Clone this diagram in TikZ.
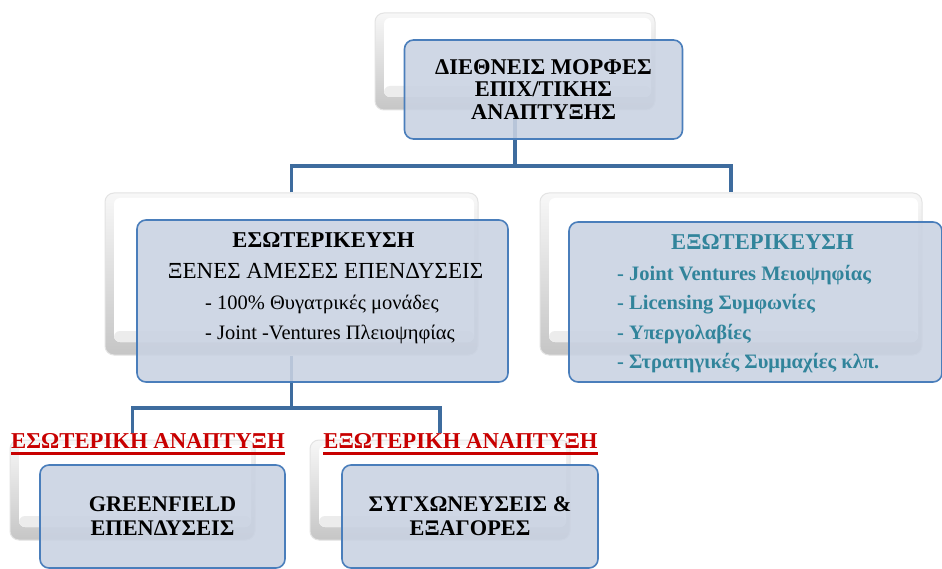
\documentclass[tikz,border=0pt]{standalone}
\usepackage{fontspec}
\setmainfont{Liberation Serif}
\usetikzlibrary{calc}
\definecolor{frontfill}{HTML}{C9D2E2}
\definecolor{frontline}{HTML}{4A7EBB}
\definecolor{conn}{HTML}{3E6C9E}
\definecolor{teal}{HTML}{31849B}
\definecolor{redlab}{HTML}{C80000}
\tikzset{
  backbox/.style={rounded corners=9pt, minimum width=#1, inner sep=0pt,
    top color=gray!6, bottom color=gray!45, draw=gray!22, line width=1pt,
    path picture={
      \fill[white, rounded corners=6pt]
        ($(path picture bounding box.south west)+(9,-13)$) rectangle
        ($(path picture bounding box.north east)+(-4,5)$);
      \fill[white!85!gray, rounded corners=6pt]
        ($(path picture bounding box.south west)+(9,-13)$) rectangle
        ($(path picture bounding box.south east)+(-4,-24)$);
    }},
  frontbox/.style={rounded corners=9pt, draw=frontline, line width=1.6pt,
    fill=frontfill, fill opacity=0.88, text opacity=1, inner sep=0pt, align=center},
  connector/.style={draw=conn, line width=3.8pt},
  redlabel/.style={text=redlab, font=\fontsize{22.7}{24}\selectfont\bfseries, inner sep=0pt, anchor=base},
  itemtext/.style={font=\fontsize{20.5}{24}\selectfont, anchor=base west, inner sep=0pt},
  tealitem/.style={font=\fontsize{20.5}{24}\selectfont\bfseries, text=teal, anchor=base west, inner sep=0pt},
}
\begin{document}
\begin{tikzpicture}[x=1pt,y=-1pt]
\useasboundingbox[fill=white] (0,0) rectangle (942,569);
% back boxes
\node[backbox=280pt, minimum height=97pt] (topback) at (515,61.5) {};
\node[backbox=373pt, minimum height=162pt] (lback) at (291.5,274) {};
\node[backbox=382pt, minimum height=162pt] (rback) at (731,274) {};
\node[backbox=245pt, minimum height=100pt] (blback) at (132.5,490) {};
\node[backbox=260pt, minimum height=100pt] (brback) at (440,490) {};
% junctions
\coordinate (j1) at (515,166);
\coordinate (j2) at (291.5,408);
% labels
\node[redlabel] (lab1) at (148,448) {ΕΣΩΤΕΡΙΚΗ ΑΝΑΠΤΥΞΗ};
\node[redlabel] (lab2) at (460.5,448) {ΕΞΩΤΕΡΙΚΗ ΑΝΑΠΤΥΞΗ};
\draw[redlab, line width=3pt] ($(lab1.base west)+(0,5.5)$) -- ($(lab1.base east)+(0,5.5)$);
\draw[redlab, line width=3pt] ($(lab2.base west)+(0,5.5)$) -- ($(lab2.base east)+(0,5.5)$);
% connectors
\draw[connector] (topback.south) -- (j1);
\draw[connector] (lback.north) |- (j1) -| (rback.north);
\draw[connector] (lback.south) -- (j2);
\draw[connector] (lab1.north -| blback.north) |- (j2) -| (lab2.north -| brback.north);
% front boxes
\node[frontbox, minimum width=278pt, minimum height=99pt,
  font=\fontsize{22.5}{22.5}\selectfont\bfseries] (top) at (543.5,89.5)
  {ΔΙΕΘΝΕΙΣ ΜΟΡΦΕΣ\\ΕΠΙΧ/ΤΙΚΗΣ\\ΑΝΑΠΤΥΞΗΣ};
\node[frontbox, minimum width=371pt, minimum height=162pt] (left) at (322.5,301) {};
\node[font=\fontsize{22.6}{24}\selectfont\bfseries, anchor=base] (lt1) at (323.5,248) {ΕΣΩΤΕΡΙΚΕΥΣΗ};
\node[font=\fontsize{23}{24}\selectfont, anchor=base] (lt2) at (325.5,279) {ΞΕΝΕΣ ΑΜΕΣΕΣ ΕΠΕΝΔΥΣΕΙΣ};
\node[itemtext] (lt3) at (205,309) {- 100\% Θυγατρικές μονάδες};
\node[itemtext] (lt4) at (205,339) {- Joint -Ventures Πλειοψηφίας};
\node[frontbox, minimum width=373pt, minimum height=160pt] (right) at (755.5,302) {};
\node[font=\fontsize{22.6}{24}\selectfont\bfseries, text=teal, anchor=base] (rt1) at (762.5,250) {ΕΞΩΤΕΡΙΚΕΥΣΗ};
\node[tealitem] (rt2) at (617,280) {- Joint Ventures Μειοψηφίας};
\node[tealitem] (rt3) at (617,309) {- Licensing Συμφωνίες};
\node[tealitem] (rt4) at (617,339) {- Υπεργολαβίες};
\node[tealitem] (rt5) at (617,368) {- Στρατηγικές Συμμαχίες κλπ.};
\node[frontbox, minimum width=245pt, minimum height=103pt,
  font=\fontsize{22.3}{24}\selectfont\bfseries] (bl) at (162.5,516.5) {GREENFIELD\\ΕΠΕΝΔΥΣΕΙΣ};
\node[frontbox, minimum width=256pt, minimum height=103pt,
  font=\fontsize{22.3}{24}\selectfont\bfseries] (br) at (470,516.5) {ΣΥΓΧΩΝΕΥΣΕΙΣ \&\\ΕΞΑΓΟΡΕΣ};
\end{tikzpicture}
\end{document}
